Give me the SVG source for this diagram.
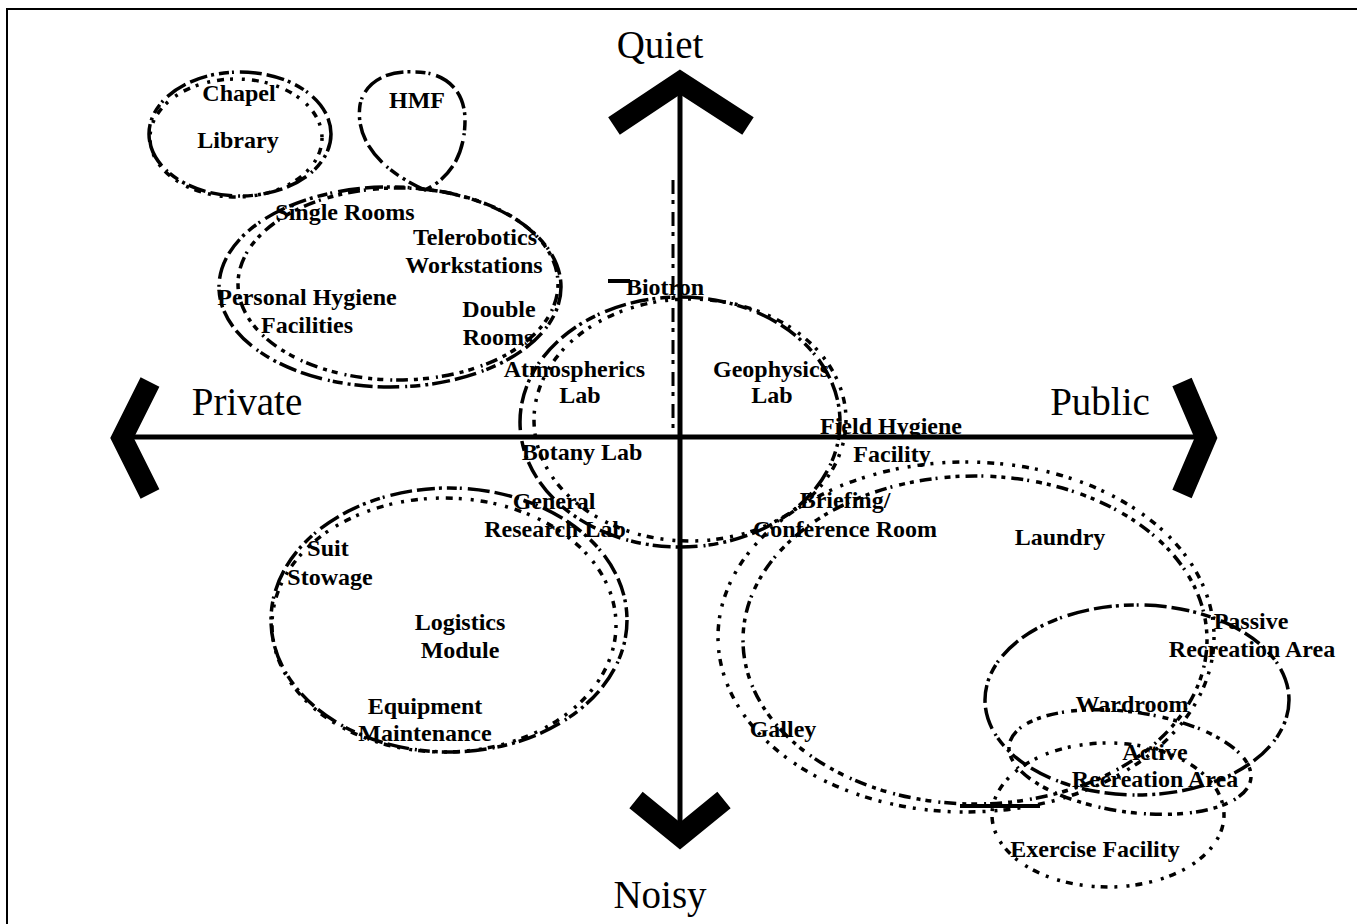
<svg xmlns="http://www.w3.org/2000/svg" width="1357" height="924" viewBox="0 0 1357 924">
<style>
.e{fill:none;stroke:#000;stroke-width:3.5}
.d1{stroke-dasharray:18 4 3 5 10 3 2 6 22 5}
.d2{stroke-dasharray:4 6 12 4 2 7 6 5}
.dt{stroke-dasharray:3 7 7 6 3 9}
.chev{fill:none;stroke:#000;stroke-width:21;stroke-linejoin:miter;stroke-miterlimit:10}
.ax{stroke:#000;stroke-width:5}
.frame{fill:none;stroke:#000;stroke-width:2}
text{font-family:"Liberation Serif","Times New Roman",serif;font-weight:bold;font-size:24px;text-anchor:middle;fill:#000}
.big{font-size:39px;font-weight:normal}
</style>
<rect width="1357" height="924" fill="#fff"/>
<polyline class="frame" points="7,924 7,9 1357,9"/>
<g id="connectors">
<line class="ax" x1="680" y1="90" x2="680" y2="836"/>
<line class="ax" x1="124" y1="437" x2="1204" y2="437"/>
<line x1="673" y1="180" x2="673" y2="430" stroke="#000" stroke-width="3" stroke-dasharray="14 6 4 8"/>
<polyline class="chev" points="614,126 680,82 748,126"/>
<polyline class="chev" points="636,800 680,836 724,800"/>
<polyline class="chev" points="150,382 122,438 150,494"/>
<polyline class="chev" points="1182,382 1206,438 1182,494"/>
</g>
<g id="axis-labels">
<text class="big" x="660" y="58">Quiet</text>
<text class="big" x="660" y="908">Noisy</text>
<text class="big" x="247" y="415">Private</text>
<text class="big" x="1100" y="415">Public</text>
</g>
<g id="chapel-library">
<ellipse class="e d1" cx="240" cy="134" rx="91" ry="62"/>
<ellipse class="e dt" cx="236" cy="138" rx="86" ry="59"/>
<text x="239" y="101">Chapel</text>
<text x="238" y="148">Library</text>
</g>
<g id="hmf">
<path class="e d1" d="M425,190 C380,170 355,140 360,105 C365,80 390,70 415,72 C445,72 465,90 465,120 C465,155 450,178 425,190 Z"/>
<text x="417" y="108">HMF</text>
</g>
<g id="rooms">
<ellipse class="e d1" cx="390" cy="287" rx="171" ry="100"/>
<ellipse class="e d2" cx="398" cy="284" rx="160" ry="96"/>
<text x="345" y="220">Single Rooms</text>
<text x="475" y="245">Telerobotics</text>
<text x="474" y="273">Workstations</text>
<text x="307" y="305">Personal Hygiene</text>
<text x="307" y="333">Facilities</text>
<text x="499" y="317">Double</text>
<text x="498" y="345">Rooms</text>
</g>
<g id="labs">
<ellipse class="e d1" cx="680" cy="422" rx="160" ry="125"/>
<ellipse class="e dt" cx="690" cy="420" rx="156" ry="121"/>
<line x1="608" y1="281" x2="630" y2="281" stroke="#000" stroke-width="4"/>
<text x="665" y="295">Biotron</text>
<text x="645" y="377" style="text-anchor:end">Atmospherics</text>
<text x="580" y="403">Lab</text>
<text x="771" y="377">Geophysics</text>
<text x="772" y="403">Lab</text>
<text x="582" y="460">Botany Lab</text>
<text x="554" y="509">General</text>
<text x="555" y="537">Research Lab</text>
</g>
<g id="logistics">
<ellipse class="e d1" cx="449" cy="620" rx="178" ry="132"/>
<ellipse class="e dt" cx="444" cy="625" rx="172" ry="127"/>
<text x="328" y="556">Suit</text>
<text x="330" y="585">Stowage</text>
<text x="460" y="630">Logistics</text>
<text x="460" y="658">Module</text>
<text x="425" y="714">Equipment</text>
<text x="425" y="741">Maintenance</text>
</g>
<g id="public-area">
<ellipse class="e dt" cx="966" cy="637" rx="248" ry="175"/>
<ellipse class="e d2" cx="975" cy="640" rx="232" ry="164"/>
<text x="962" y="434" style="text-anchor:end">Field Hygiene</text>
<text x="892" y="462">Facility</text>
<text x="845" y="508">Briefing/</text>
<text x="845" y="537">Conference Room</text>
<text x="1060" y="545">Laundry</text>
<text x="783" y="737">Galley</text>
</g>
<g id="passive-recreation">
<ellipse class="e d1" cx="1137" cy="700" rx="152" ry="95"/>
<text x="1251" y="629">Passive</text>
<text x="1252" y="657">Recreation Area</text>
<text x="1132" y="712">Wardroom</text>
</g>
<g id="active-recreation">
<ellipse class="e d2" cx="1130" cy="762" rx="122" ry="50" transform="rotate(8 1130 762)"/>
<text x="1155" y="760">Active</text>
<text x="1155" y="787">Recreation Area</text>
</g>
<g id="exercise">
<ellipse class="e dt" cx="1108" cy="815" rx="116" ry="72"/>
<line x1="960" y1="806" x2="1040" y2="806" stroke="#000" stroke-width="4"/>
<text x="1095" y="857">Exercise Facility</text>
</g>
</svg>
